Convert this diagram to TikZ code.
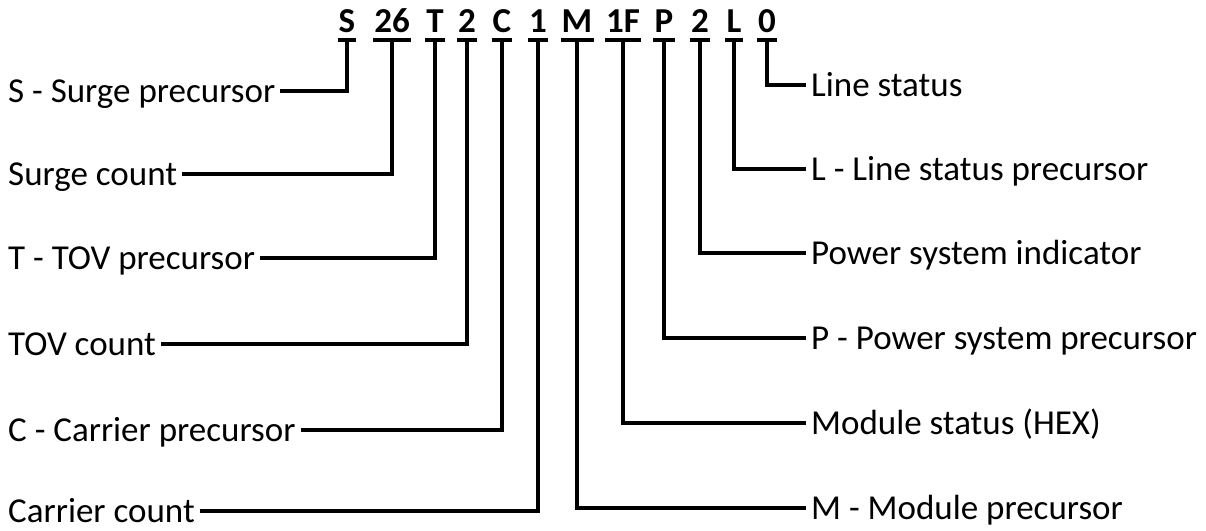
\documentclass[tikz,border=0pt]{standalone}
\usepackage{fontspec}
\setmainfont{Carlito}
\begin{document}
\begin{tikzpicture}[x=1pt,y=-1pt,
  lbl/.style={inner xsep=5pt, inner ysep=0pt, text height=22pt, text depth=0pt,
              font=\fontsize{35}{42}\selectfont},
  lleft/.style={lbl, anchor=west},
  lright/.style={lbl, anchor=west},
  code/.style={inner xsep=1pt, inner ysep=0pt, text height=22pt, text depth=8pt,
               font=\fontsize{35}{42}\selectfont\bfseries, anchor=base},
  bar/.style={line width=4.2pt},
  conn/.style={line width=3.6pt, line join=miter}]
\useasboundingbox (0,0) rectangle (1206,530);
% codes
\node[code] (cS)  at (347,32) {S};
\node[code] (c26) at (392,32) {26};
\node[code] (cT)  at (435,32) {T};
\node[code] (c2a) at (467,32) {2};
\node[code] (cC)  at (502,32) {C};
\node[code] (c1)  at (538,32) {1};
\node[code] (cM)  at (577,32) {M};
\node[code] (c1F) at (623,32) {1F};
\node[code] (cP)  at (664,32) {P};
\node[code] (c2b) at (700,32) {2};
\node[code] (cL)  at (734,32) {L};
\node[code] (c0)  at (767,32) {0};
\foreach \c in {cS,c26,cT,c2a,cC,c1,cM,c1F,cP,c2b,cL,c0}
  \draw[bar] (\c.south west) -- (\c.south east);
% left labels
\node[lleft] (lS)  at (3,91)  {S - Surge precursor};
\node[lleft] (lSc) at (3,174) {Surge count};
\node[lleft] (lT)  at (3,258) {T - TOV precursor};
\node[lleft] (lTc) at (3,344) {TOV count};
\node[lleft] (lC)  at (3,430) {C - Carrier precursor};
\node[lleft] (lCc) at (3,511) {Carrier count};
% right labels
\node[lright] (r0)  at (806,85)  {Line status};
\node[lright] (rL)  at (806,169) {L - Line status precursor};
\node[lright] (r2)  at (806,253) {Power system indicator};
\node[lright] (rP)  at (806,338) {P - Power system precursor};
\node[lright] (r1F) at (806,423) {Module status (HEX)};
\node[lright] (rM)  at (806,508) {M - Module precursor};
% connectors
\draw[conn] (lS.east)  -| (cS.south);
\draw[conn] (lSc.east) -| (c26.south);
\draw[conn] (lT.east)  -| (cT.south);
\draw[conn] (lTc.east) -| (c2a.south);
\draw[conn] (lC.east)  -| (cC.south);
\draw[conn] (lCc.east) -| (c1.south);
\draw[conn] (c0.south)  |- (r0.west);
\draw[conn] (cL.south)  |- (rL.west);
\draw[conn] (c2b.south) |- (r2.west);
\draw[conn] (cP.south)  |- (rP.west);
\draw[conn] (c1F.south) |- (r1F.west);
\draw[conn] (cM.south)  |- (rM.west);
\end{tikzpicture}
\end{document}
